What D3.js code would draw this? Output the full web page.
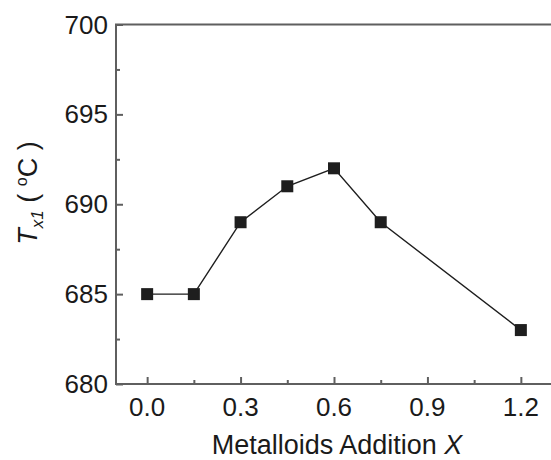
<!DOCTYPE html>
<html>
<head>
<meta charset="utf-8">
<script src="https://cdn.jsdelivr.net/npm/d3@7"></script>
<style>
  body { margin: 0; background: #fff; }
  svg { display: block; font-family: 'Liberation Sans', Arial, sans-serif; }
</style>
</head>
<body>
<div class="chart_container"></div>
<script>
'use strict';

const xValues = [0.0, 0.15, 0.3, 0.45, 0.6, 0.75, 1.2];
const tx1Values = [685, 685, 689, 691, 692, 689, 683];
const xTicks = [0.0, 0.3, 0.6, 0.9, 1.2];
const xMinorTicks = [0.15, 0.45, 0.75, 1.05];
const yTicks = [680, 685, 690, 695, 700];
const yMinorTicks = [682.5, 687.5, 692.5, 697.5];

const width = 551,
  height = 460;

const plotLeft = 116, plotRight = 552, plotTop = 24.5, plotBottom = 384;
const axisColor = '#5f5f5f';
const markColor = '#1e1e1e';

const svg = d3.select('.chart_container')
  .append('svg')
  .attr('width', width)
  .attr('height', height);

const xScale = d3.scaleLinear().domain([-0.1, 1.3]).range([plotLeft, plotRight]);
const yScale = d3.scaleLinear().domain([680, 700]).range([plotBottom, plotTop]);

// inward ticks, major and minor
const xAxis = d3.axisTop(xScale).tickValues(xTicks).tickSize(7).tickFormat('');
const xAxisMinor = d3.axisTop(xScale).tickValues(xMinorTicks).tickSize(4).tickFormat('');
const yAxis = d3.axisRight(yScale).tickValues(yTicks).tickSize(7).tickFormat('');
const yAxisMinor = d3.axisRight(yScale).tickValues(yMinorTicks).tickSize(4).tickFormat('');

[
  [xAxis, `translate(0, ${plotBottom})`],
  [xAxisMinor, `translate(0, ${plotBottom})`],
  [yAxis, `translate(${plotLeft}, 0)`],
  [yAxisMinor, `translate(${plotLeft}, 0)`]
].forEach(([axis, tr]) => {
  const g = svg.append('g').attr('transform', tr).call(axis);
  g.select('.domain').remove();
  g.selectAll('line').attr('stroke', axisColor).attr('stroke-width', 2);
});

// frame: left, bottom and top lines
svg.append('path')
  .attr('d', `M${plotRight},${plotTop}H${plotLeft}V${plotBottom}H${plotRight}`)
  .attr('fill', 'none')
  .attr('stroke', axisColor)
  .attr('stroke-width', 2);

// tick labels
svg.append('g').selectAll('text')
  .data(xTicks)
  .enter()
  .append('text')
  .attr('x', d => xScale(d))
  .attr('y', plotBottom + 32)
  .attr('text-anchor', 'middle')
  .attr('font-size', 26)
  .attr('fill', '#1a1a1a')
  .text(d => d.toFixed(1));

svg.append('g').selectAll('text')
  .data(yTicks)
  .enter()
  .append('text')
  .attr('x', plotLeft - 8)
  .attr('y', d => yScale(d) + 9)
  .attr('text-anchor', 'end')
  .attr('font-size', 26)
  .attr('fill', '#1a1a1a')
  .text(d => d);

// axis titles
const xTitle = svg.append('text')
  .attr('x', 337)
  .attr('y', 454)
  .attr('text-anchor', 'middle')
  .attr('font-size', 27)
  .attr('fill', '#1a1a1a');
xTitle.append('tspan').text('Metalloids Addition ');
xTitle.append('tspan').attr('font-style', 'italic').text('X');

const yTitle = svg.append('text')
  .attr('transform', 'translate(37, 193) rotate(-90)')
  .attr('text-anchor', 'middle')
  .attr('font-size', 27)
  .attr('fill', '#1a1a1a');
yTitle.append('tspan').attr('font-style', 'italic').text('T');
yTitle.append('tspan').attr('font-style', 'italic').attr('font-size', 17).attr('dy', 6).text('x1');
yTitle.append('tspan').attr('dy', -6).text(' ( ');
yTitle.append('tspan').attr('font-size', 16).attr('dy', -10).text('o');
yTitle.append('tspan').attr('dy', 10).text('C )');

// data line and markers
const data = xValues.map((x, i) => ({ x, y: tx1Values[i] }));

svg.append('path')
  .datum(data)
  .attr('fill', 'none')
  .attr('stroke', markColor)
  .attr('stroke-width', 1.4)
  .attr('d', d3.line().x(d => xScale(d.x)).y(d => yScale(d.y)));

const size = 12;
svg.selectAll('rect.pt')
  .data(data)
  .enter()
  .append('rect')
  .attr('class', 'pt')
  .attr('x', d => xScale(d.x) - size / 2)
  .attr('y', d => yScale(d.y) - size / 2)
  .attr('width', size)
  .attr('height', size)
  .attr('fill', markColor);
</script>
</body>
</html>
